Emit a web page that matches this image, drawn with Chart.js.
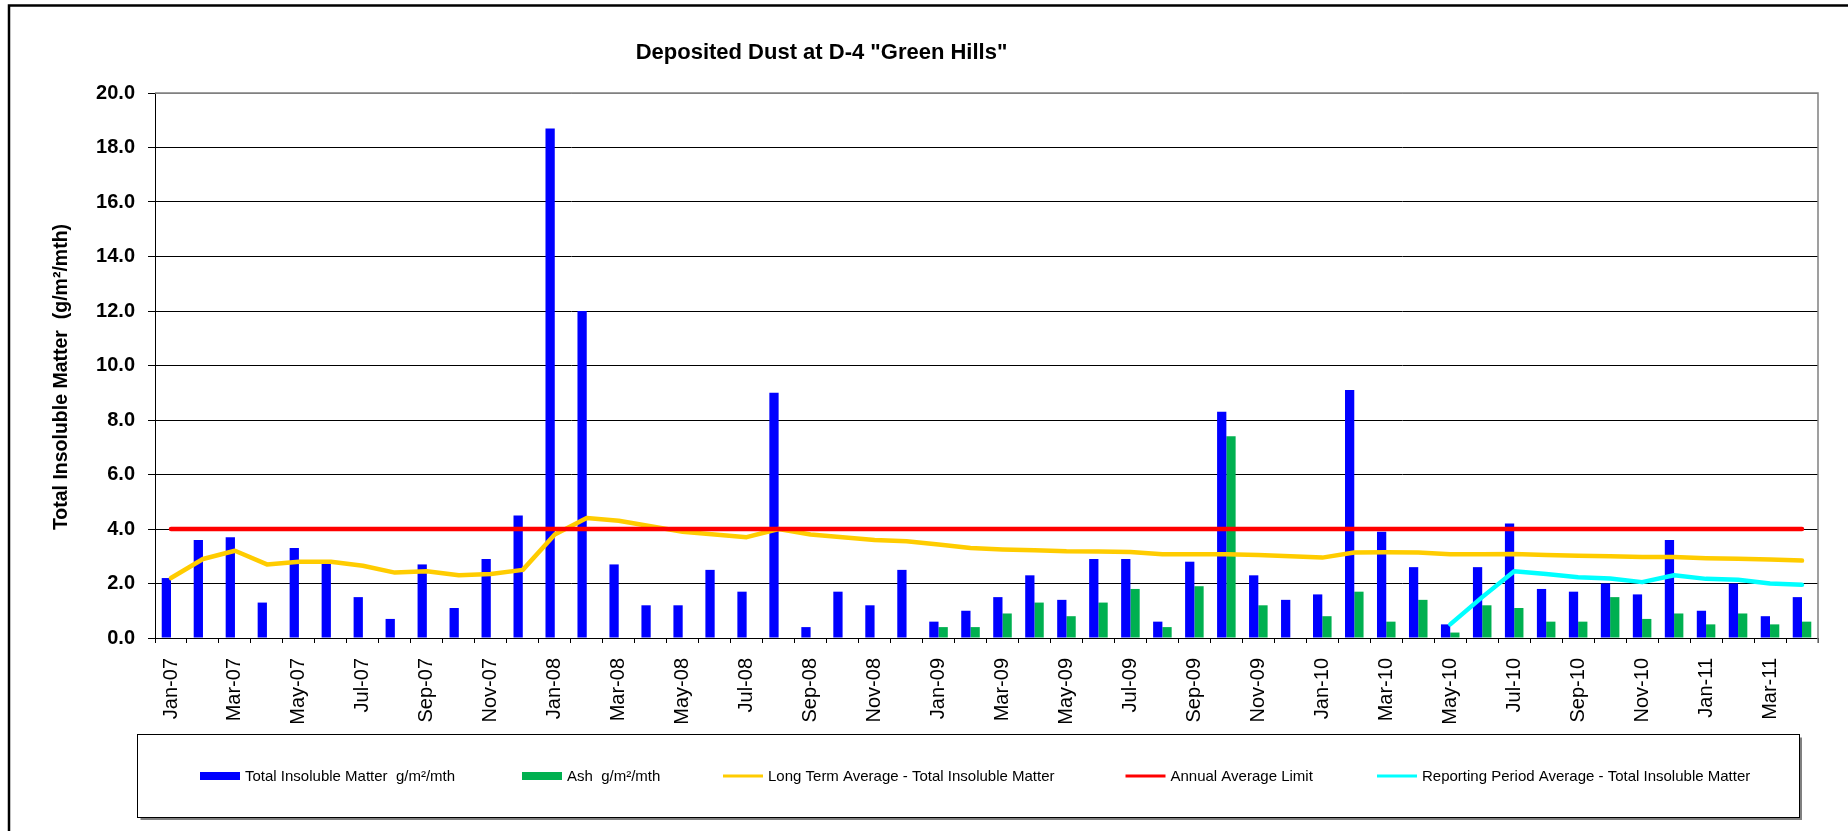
<!DOCTYPE html>
<html>
<head>
<meta charset="utf-8">
<title>Deposited Dust at D-4 "Green Hills"</title>
<script src="https://cdn.jsdelivr.net/npm/chart.js@4.4.1/dist/chart.umd.min.js"></script>
<style>
  html, body { margin: 0; padding: 0; background: #fff; }
  #wrap { width: 1848px; height: 831px; }
</style>
</head>
<body>
<div id="wrap"><canvas id="dustChart" width="1848" height="831"></canvas></div>
<script>
// monthly samples, Jan-07 .. Apr-11
const months = [
  'Jan-07', 'Feb-07', 'Mar-07', 'Apr-07', 'May-07', 'Jun-07', 'Jul-07', 'Aug-07', 'Sep-07', 'Oct-07', 'Nov-07', 'Dec-07',
  'Jan-08', 'Feb-08', 'Mar-08', 'Apr-08', 'May-08', 'Jun-08', 'Jul-08', 'Aug-08', 'Sep-08', 'Oct-08', 'Nov-08', 'Dec-08',
  'Jan-09', 'Feb-09', 'Mar-09', 'Apr-09', 'May-09', 'Jun-09', 'Jul-09', 'Aug-09', 'Sep-09', 'Oct-09', 'Nov-09', 'Dec-09',
  'Jan-10', 'Feb-10', 'Mar-10', 'Apr-10', 'May-10', 'Jun-10', 'Jul-10', 'Aug-10', 'Sep-10', 'Oct-10', 'Nov-10', 'Dec-10',
  'Jan-11', 'Feb-11', 'Mar-11', 'Apr-11'
];

const totalInsoluble = [
  2.2, 3.6, 3.7, 1.3, 3.3, 2.8, 1.5, 0.7, 2.7, 1.1, 2.9, 4.5,
  18.7, 12.0, 2.7, 1.2, 1.2, 2.5, 1.7, 9.0, 0.4, 1.7, 1.2, 2.5,
  0.6, 1.0, 1.5, 2.3, 1.4, 2.9, 2.9, 0.6, 2.8, 8.3, 2.3, 1.4,
  1.6, 9.1, 3.9, 2.6, 0.5, 2.6, 4.2, 1.8, 1.7, 2.0, 1.6, 3.6,
  1.0, 2.0, 0.8, 1.5
];

// ash was only analysed from Jan-09
const ash = [
  null, null, null, null, null, null, null, null, null, null, null, null,
  null, null, null, null, null, null, null, null, null, null, null, null,
  0.4, 0.4, 0.9, 1.3, 0.8, 1.3, 1.8, 0.4, 1.9, 7.4, 1.2, null,
  0.8, 1.7, 0.6, 1.4, 0.2, 1.2, 1.1, 0.6, 0.6, 1.5, 0.7, 0.9,
  0.5, 0.9, 0.5, 0.6
];

const longTermAverage = [
  2.2, 2.9, 3.2, 2.7, 2.8, 2.8, 2.65, 2.4, 2.45, 2.3, 2.35, 2.5,
  3.8, 4.4, 4.3, 4.1, 3.9, 3.8, 3.7, 4.0, 3.8, 3.7, 3.6, 3.55,
  3.43, 3.3, 3.25, 3.22, 3.18, 3.17, 3.16, 3.07, 3.07, 3.07, 3.05, 3.0,
  2.95, 3.14, 3.15, 3.14, 3.07, 3.07, 3.08, 3.05, 3.02, 3.0, 2.97, 2.97,
  2.93, 2.91, 2.88, 2.84
];

const annualLimit = [
  4.0, 4.0, 4.0, 4.0, 4.0, 4.0, 4.0, 4.0, 4.0, 4.0, 4.0, 4.0,
  4.0, 4.0, 4.0, 4.0, 4.0, 4.0, 4.0, 4.0, 4.0, 4.0, 4.0, 4.0,
  4.0, 4.0, 4.0, 4.0, 4.0, 4.0, 4.0, 4.0, 4.0, 4.0, 4.0, 4.0,
  4.0, 4.0, 4.0, 4.0, 4.0, 4.0, 4.0, 4.0, 4.0, 4.0, 4.0, 4.0,
  4.0, 4.0, 4.0, 4.0
];

const reportingMonths = ['May-10', 'Jun-10', 'Jul-10', 'Aug-10', 'Sep-10', 'Oct-10', 'Nov-10', 'Dec-10', 'Jan-11', 'Feb-11', 'Mar-11', 'Apr-11'];
const reportingAverage = [0.5, 1.5, 2.45, 2.35, 2.23, 2.18, 2.05, 2.3, 2.17, 2.14, 2.0, 1.95];

const yMin = 0;
const yMax = 20;
const yStep = 2;

const chartTitle = 'Deposited Dust at D-4 "Green Hills"';
const yTitle = 'Total Insoluble Matter  (g/m\u00B2/mth)';

Chart.defaults.font.family = '"Liberation Sans", Arial, sans-serif';
Chart.defaults.color = '#000';

// grey plot frame (top + right) and the outer chart border
const framePlugin = {
  id: 'frame',
  beforeDatasetsDraw(chart) {
    const { ctx, chartArea } = chart;
    ctx.save();
    ctx.strokeStyle = '#808080';
    ctx.lineWidth = 1.5;
    ctx.beginPath();
    ctx.moveTo(chartArea.left, chartArea.top);
    ctx.lineTo(chartArea.right, chartArea.top);
    ctx.lineTo(chartArea.right, chartArea.bottom + 5);
    ctx.stroke();
    ctx.restore();
  },
  afterDraw(chart) {
    const { ctx } = chart;
    ctx.save();
    ctx.strokeStyle = '#000';
    ctx.lineWidth = 2.5;
    ctx.beginPath();
    ctx.moveTo(9, chart.height);
    ctx.lineTo(9, 5.5);
    ctx.lineTo(chart.width, 5.5);
    ctx.stroke();
    ctx.restore();
  }
};

const titlesPlugin = {
  id: 'titles',
  afterDraw(chart) {
    const { ctx } = chart;
    ctx.save();
    ctx.fillStyle = '#000';
    ctx.font = 'bold 22px "Liberation Sans", Arial, sans-serif';
    ctx.textAlign = 'center';
    ctx.textBaseline = 'alphabetic';
    ctx.fillText(chartTitle, 821.5, 58.5);

    ctx.translate(62, 377);
    ctx.rotate(-Math.PI / 2);
    ctx.font = 'bold 19.5px "Liberation Sans", Arial, sans-serif';
    ctx.textBaseline = 'middle';
    ctx.fillText(yTitle, 0, 0);
    ctx.restore();
  }
};

// boxed legend under the axis, Excel style
const legendItemX = [200, 522, 723, 1125.5, 1377];

const boxLegendPlugin = {
  id: 'boxLegend',
  afterDraw(chart) {
    const { ctx } = chart;
    const box = { left: 137.5, top: 734.5, right: 1799.5, bottom: 817.5 };
    const cy = 776;
    const swatchW = 40;

    ctx.save();
    ctx.strokeStyle = '#808080';
    ctx.lineWidth = 2;
    ctx.beginPath();
    ctx.moveTo(box.left + 3, box.bottom + 1.5);
    ctx.lineTo(box.right + 1.5, box.bottom + 1.5);
    ctx.lineTo(box.right + 1.5, box.top + 3);
    ctx.stroke();
    ctx.strokeStyle = '#000';
    ctx.lineWidth = 1;
    ctx.strokeRect(box.left, box.top, box.right - box.left, box.bottom - box.top);

    ctx.font = '15px "Liberation Sans", Arial, sans-serif';
    ctx.textBaseline = 'middle';
    ctx.textAlign = 'left';
    chart.data.datasets.forEach((ds, i) => {
      const x = legendItemX[i];
      if (ds.type === 'bar') {
        ctx.fillStyle = ds.backgroundColor;
        ctx.fillRect(x, cy - 4, swatchW, 8);
      } else {
        ctx.strokeStyle = ds.borderColor;
        ctx.lineWidth = 3;
        ctx.beginPath();
        ctx.moveTo(x, cy);
        ctx.lineTo(x + swatchW, cy);
        ctx.stroke();
      }
      ctx.fillStyle = '#000';
      ctx.fillText(ds.label, x + swatchW + 5, cy + 1);
    });
    ctx.restore();
  }
};

const lineStyle = {
  type: 'line',
  borderWidth: 4.5,
  pointRadius: 0,
  pointHoverRadius: 0,
  tension: 0,
  fill: false,
  borderCapStyle: 'round',
  borderJoinStyle: 'round'
};

new Chart(document.getElementById('dustChart'), {
  type: 'bar',
  data: {
    labels: months,
    datasets: [
      {
        type: 'bar',
        label: 'Total Insoluble Matter  g/m\u00B2/mth',
        data: totalInsoluble,
        backgroundColor: '#0000FF',
        borderWidth: 0,
        categoryPercentage: 0.58,
        barPercentage: 1,
        order: 3
      },
      {
        type: 'bar',
        label: 'Ash  g/m\u00B2/mth',
        data: ash,
        backgroundColor: '#00B050',
        borderWidth: 0,
        categoryPercentage: 0.58,
        barPercentage: 1,
        order: 3
      },
      {
        ...lineStyle,
        label: 'Long Term Average - Total Insoluble Matter',
        data: longTermAverage,
        borderColor: '#FFCC00',
        backgroundColor: '#FFCC00',
        order: 2
      },
      {
        ...lineStyle,
        label: 'Annual Average Limit',
        data: annualLimit,
        borderColor: '#FF0000',
        backgroundColor: '#FF0000',
        order: 0
      },
      {
        ...lineStyle,
        label: 'Reporting Period Average - Total Insoluble Matter',
        data: reportingMonths.map((m, i) => ({ x: m, y: reportingAverage[i] })),
        borderColor: '#00FFFF',
        backgroundColor: '#00FFFF',
        order: 1
      }
    ]
  },
  options: {
    responsive: false,
    animation: false,
    devicePixelRatio: 1,
    layout: {
      padding: { top: 93, right: 30, bottom: 0, left: 0 }
    },
    plugins: {
      legend: { display: false },
      title: { display: false },
      tooltip: { enabled: false }
    },
    scales: {
      x: {
        offset: true,
        grid: {
          offset: true,
          drawOnChartArea: false,
          drawTicks: true,
          tickLength: 5,
          tickColor: '#000'
        },
        border: { color: '#000', width: 1 },
        ticks: {
          autoSkip: false,
          minRotation: 90,
          maxRotation: 90,
          padding: 15,
          color: '#000',
          font: { size: 20 },
          callback: (value, index) => (index % 2 === 0 ? months[index] : '')
        },
        afterFit: scale => { scale.height = 193; }
      },
      y: {
        min: yMin,
        max: yMax,
        ticks: {
          stepSize: yStep,
          padding: 13,
          color: '#000',
          font: { size: 20, weight: 'bold' },
          callback: value => Number(value).toFixed(1)
        },
        grid: {
          color: ctx => (ctx.tick && ctx.tick.value === yMax ? '#808080' : '#000'),
          tickColor: '#000',
          tickLength: 7,
          lineWidth: 1
        },
        border: { color: '#000', width: 1 },
        afterFit: scale => { scale.width = 155; }
      }
    }
  },
  plugins: [framePlugin, titlesPlugin, boxLegendPlugin]
});
</script>
</body>
</html>
